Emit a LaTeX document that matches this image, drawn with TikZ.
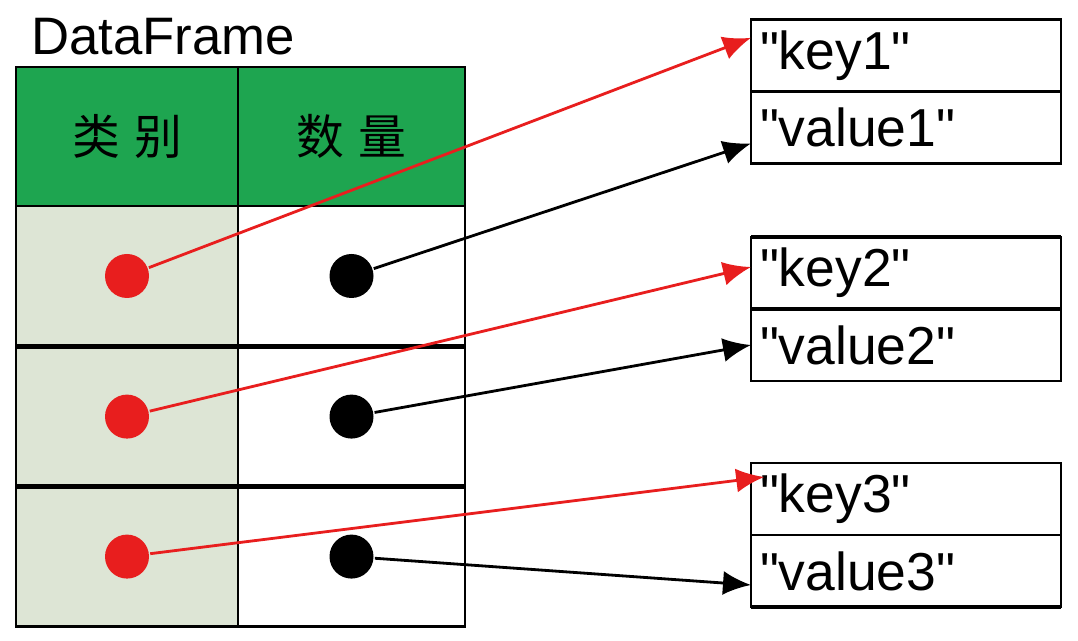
\documentclass[tikz,border=0pt]{standalone}
\usepackage{fontspec}
\setmainfont{Liberation Sans}
\newfontfamily\cjk{Noto Sans CJK SC}
\usetikzlibrary{positioning,arrows.meta,calc}
\definecolor{hdrgreen}{RGB}{30,165,80}
\definecolor{colgray}{RGB}{221,229,213}
\definecolor{dotred}{RGB}{232,30,30}
\newcommand{\qt}[1]{\textquotedbl#1\textquotedbl}
\tikzset{
  every picture/.style={line width=2pt},
  cell/.style={draw,rectangle,inner sep=0,outer sep=0,minimum height=3.5cm},
  hdr/.style={cell,fill=hdrgreen,minimum height=3.475cm,font=\cjk\fontsize{34}{40}\selectfont},
  kv/.style={draw,rectangle,inner sep=0,outer sep=0,minimum width=7.75cm,minimum height=1.8cm,text width=7.3cm,align=left,font=\fontsize{38}{44}\selectfont},
  ptdot/.style={circle,inner sep=0,minimum size=1.1cm},
  ptr/.style={-{Latex[length=7mm,width=6mm]},line width=2pt},
  rowsep/.style={line width=3.5pt},
}

\begin{document}
\begin{tikzpicture}[x=1cm,y=1cm]
\useasboundingbox (0,0) rectangle (26.95,16.025);
% --- title ---
\node[anchor=base west,inner sep=0,font=\fontsize{37.5}{44}\selectfont] (title) at (0.75,14.65) {DataFrame};
% --- header ---
\node[hdr,minimum width=5.55cm] (hA) at (3.175,12.61) {类\hspace{0.3em}别};
\node[hdr,minimum width=5.675cm] (hB) at (8.7875,12.61) {数\hspace{0.3em}量};
% --- rows ---
\foreach \i/\y in {1/9.125,2/5.61,3/2.11}{
  \node[cell,fill=colgray,minimum width=5.55cm] (a\i) at (3.175,\y) {};
  \node[cell,minimum width=5.675cm] (b\i) at (8.7875,\y) {};
  \node[ptdot,fill=dotred] (rd\i) at (a\i.center) {};
  \node[ptdot,fill=black] (bd\i) at (b\i.center) {};
}
\draw[rowsep] (a2.north west) -- (b2.north east);
\draw[rowsep] (a3.north west) -- (b3.north east);
% --- key/value boxes ---
\node[kv] (k1) at (22.65,14.64) {\qt{key1}};
\node[kv,below=0pt of k1] (v1) {\qt{value1}};
\node[kv] (k2) at (22.65,9.2) {\qt{key2}};
\node[kv,below=0pt of k2] (v2) {\qt{value2}};
\node[kv] (k3) at (22.65,3.55) {\qt{key3}};
\node[kv,below=0pt of k3] (v3) {\qt{value3}};
\draw[rowsep] (k2.north west) -- (k2.north east);
\draw[rowsep] (k2.south west) -- (k2.south east);
\draw[rowsep] (v3.south west) -- (v3.south east);
% --- pointers ---
\draw[ptr,dotred] (rd1) -- ([yshift=4.4mm]k1.west);
\draw[ptr] (bd1) -- ([yshift=-4mm]v1.west);
\draw[ptr,dotred] (rd2) -- ([yshift=1.5mm]k2.west);
\draw[ptr] (bd2) -- (v2.west);
\draw[ptr,dotred] (rd3) -- ([xshift=3.3mm,yshift=5.5mm]k3.west);
\draw[ptr] (bd3) -- ([yshift=-3.5mm]v3.west);
\end{tikzpicture}
\end{document}
